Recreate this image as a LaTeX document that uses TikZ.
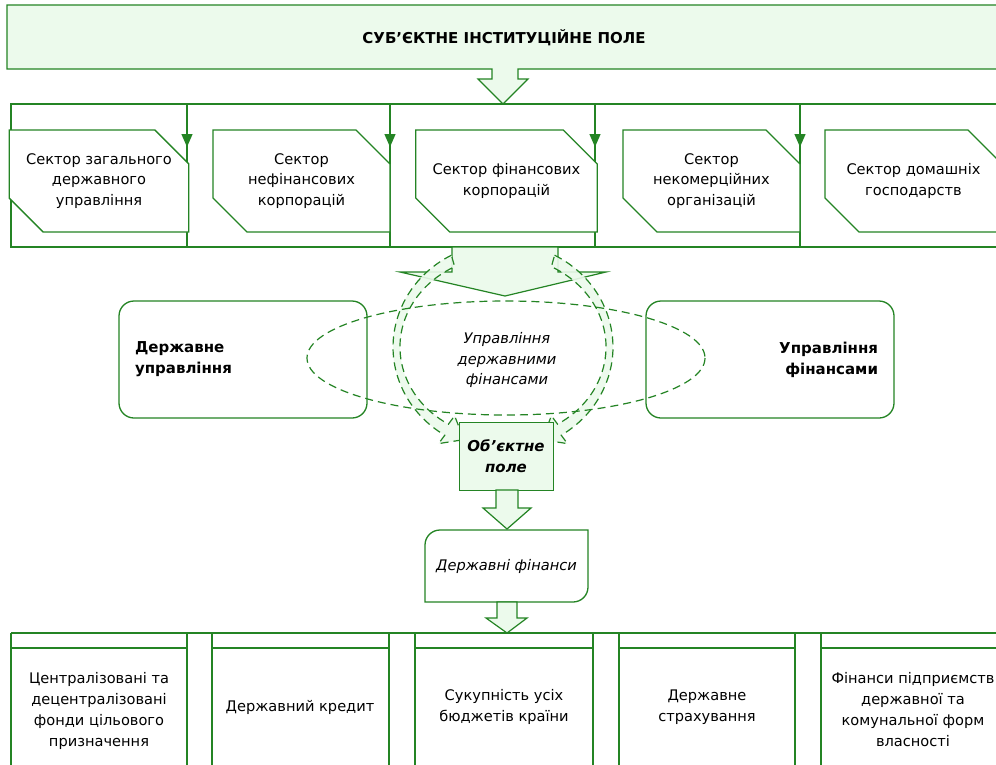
\documentclass[tikz,border=0pt]{standalone}
\usepackage{fontspec}
\setmainfont{DejaVu Sans}
\usetikzlibrary{shapes.misc,arrows.meta}
\definecolor{gline}{RGB}{36,132,36}
\definecolor{gfill}{RGB}{236,250,236}
\newcommand\txtsz{\fontsize{14.6}{20.8}\selectfont}
\newcommand\bsz{\fontsize{15}{20.8}\selectfont\bfseries}
\begin{document}
\begin{tikzpicture}[x=1pt,y=-1pt,line width=1.3pt,
  sector/.style={chamfered rectangle, chamfered rectangle corners={north east,south west},
    chamfered rectangle xsep=17pt, chamfered rectangle ysep=17pt, draw=gline, fill=white,
    minimum width=176pt, minimum height=102pt, inner sep=0pt, align=center, font=\txtsz},
  frameline/.style={draw=gline, line width=1.3pt},
  tipline/.style={draw=gline, -{Triangle[width=11pt,length=13pt]}},
  blockarrow/.style={draw=gline, fill=gfill, line width=1.2pt, line join=miter},
  sidebox/.style={draw=gline, fill=white, rounded corners=15pt, minimum width=248pt,
    minimum height=117pt, inner xsep=16pt, text width=216pt, font=\bsz},
  dashline/.style={draw=gline, line width=1.2pt, dash pattern=on 8pt off 5pt},
  ring/.style={dashline, fill=gfill, fill opacity=0.9},
  coltext/.style={align=center, font=\txtsz, inner sep=0pt},
]
\clip (0,0) rectangle (996,764);
\fill[white] (0,0) rectangle (996,764);

% top banner
\path[blockarrow] (7,5) -- (1010,5) -- (1010,69) -- (518,69) -- (518,79) -- (528,79)
  -- (503,104) -- (478,79) -- (492,79) -- (492,69) -- (7,69) -- cycle;
\node[font=\bsz] (ban) at (504,38) {СУБ’ЄКТНЕ ІНСТИТУЦІЙНЕ ПОЛЕ};

% sector frame
\draw[frameline] (1010,104) -- (11,104) -- (11,247) -- (1010,247);
\foreach \x in {187,390,595,800,1005}{
  \draw[frameline] (\x,104) -- (\x,247);
}
\node[sector] (s1) at (99,181) {Сектор загального\\державного\\управління};
\node[sector, minimum width=177pt] (s2) at (301.5,181) {Сектор\\нефінансових\\корпорацій};
\node[sector, minimum width=177pt] (s3) at (506.5,181) {Сектор фінансових\\корпорацій};
\node[sector, minimum width=177pt] (s4) at (711.5,181) {Сектор\\некомерційних\\організацій};
\node[sector, minimum width=177pt] (s5) at (913.5,181) {Сектор домашніх\\господарств};
\foreach \x in {187,390,595,800}{
  \draw[tipline] (\x,104) -- (\x,147);
}

% side boxes
\node[sidebox, align=left] (du) at (243,359.5) {Державне\\управління};
\node[sidebox, align=right] (uf) at (770,359.5) {Управління\\фінансами};

% big arrow
\path[blockarrow] (452,247) -- (558,247) -- (558,272) -- (606,272) -- (505,296)
  -- (400,272) -- (452,272) -- cycle;

% circular arrows
\path[ring] (451.4,255.2) arc[start angle=242, end angle=122, x radius=110, y radius=104]
  -- (438.6,443.6) -- (464,439.6) -- (454.6,415.8) -- (448.4,424.2)
  arc[start angle=122, end angle=242, x radius=103, y radius=91] -- cycle;
\path[ring] (554.6,255.2) arc[start angle=-62, end angle=58, x radius=110, y radius=104]
  -- (567.4,443.6) -- (542,439.6) -- (551.4,415.8) -- (557.6,424.2)
  arc[start angle=58, end angle=-62, x radius=103, y radius=91] -- cycle;

% dashed ellipse
\draw[dashline] (506,358) ellipse [x radius=199, y radius=57];
\node[align=center, font=\txtsz\itshape] (ugf) at (507,360) {Управління\\державними\\фінансами};

% object field box
\node[draw=gline, fill=gfill, line width=1pt, minimum width=94pt, minimum height=68pt,
  align=center, font=\bsz\itshape, inner sep=0pt] (ob) at (506,456) {Об’єктне\\поле};

% arrow to state finance
\path[blockarrow] (496,490) -- (518,490) -- (518,508) -- (531,508) -- (507,529)
  -- (483,508) -- (496,508) -- cycle;

% state finance box
\path[draw=gline, fill=white] (425,602) -- (425,545) .. controls (425,536.7) and (431.7,530) .. (440,530)
  -- (588,530) -- (588,587) .. controls (588,595.3) and (581.3,602) .. (573,602) -- cycle;
\node[font=\txtsz\itshape] (df) at (506.5,566) {Державні фінанси};

% arrow to bottom
\path[blockarrow] (497,602) -- (517,602) -- (517,618) -- (527,618) -- (507,633)
  -- (486,618) -- (497,618) -- cycle;

% bottom frame
\draw[frameline] (11,633) -- (1010,633);
\foreach \l/\r in {11/187,212/389,415/593,619/795,821/998}{
  \draw[frameline] (\l,633) -- (\l,780);
  \draw[frameline] (\r,633) -- (\r,780);
  \draw[frameline] (\l,648) -- (\r,648);
}
\node[coltext] (b1) at (99,711) {Централізовані та\\децентралізовані\\фонди цільового\\призначення};
\node[coltext] (b2) at (300,707) {Державний кредит};
\node[coltext] (b3) at (504,707) {Сукупність усіх\\бюджетів країни};
\node[coltext] (b4) at (707,707) {Державне\\страхування};
\node[coltext] (b5) at (913,709.5) {Фінанси підприємств\\державної та\\комунальної форм\\власності};
\end{tikzpicture}
\end{document}
